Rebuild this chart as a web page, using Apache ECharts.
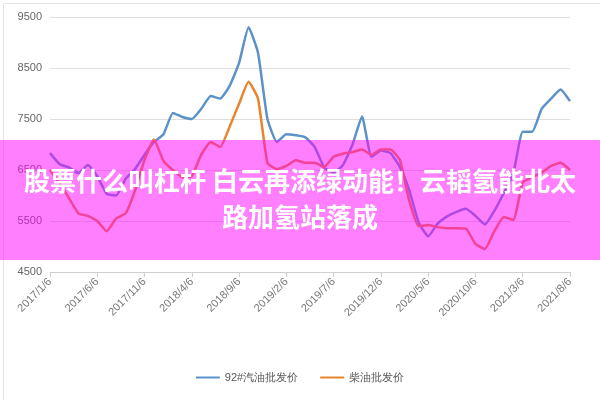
<!DOCTYPE html>
<html><head><meta charset="utf-8">
<script src="https://cdn.jsdelivr.net/npm/echarts@6/dist/echarts.min.js"></script>
<style>html,body{margin:0;padding:0;background:#fff}#c{width:600px;height:400px}</style>
</head><body><div id="c"></div>
<script>
const startYear = 2017, startMonth = 1, monthCount = 56;
const categories = [];
for (let i = 0; i < monthCount; i++) {
  const t = startMonth - 1 + i;
  categories.push((startYear + Math.floor(t / 12)) + '/' + (t % 12 + 1) + '/6');
}
const gasoline92 = [6830,6620,6550,6440,6600,6380,6030,6000,6330,6520,6800,7050,7200,7620,7540,7500,7700,7950,7900,8150,8600,9300,8800,7500,7050,7200,7180,7140,6950,6550,6450,6600,7000,7550,6760,6880,6830,6560,6100,5470,5200,5450,5590,5680,5740,5600,5430,5700,6050,6430,7250,7250,7700,7900,8080,7850];
const diesel = [6500,6250,5950,5650,5600,5500,5300,5550,5650,6100,6700,7100,6680,6500,6360,6380,6800,7050,6950,7350,7800,8230,7900,6640,6520,6580,6690,6640,6640,6560,6760,6820,6850,6900,6800,6900,6900,6700,5900,5400,5420,5380,5360,5360,5350,5050,4950,5300,5580,5520,6250,6360,6450,6580,6640,6500];
const yTicks = [4500, 5500, 6500, 7500, 8500, 9500];
const seriesNames = ['92#汽油批发价', '柴油批发价'];
const title = ['股票什么叫杠杆 白云再添绿动能！云韬氢能北太', '路加氢站落成'];

const chart = echarts.init(document.getElementById('c'));
chart.setOption({
  animation: false,
  color: ['#5b93c9', '#e8842f'],
  grid: {left: 50, right: 30, top: 17, bottom: 128},
  legend: {bottom: 12, left: 'center', itemWidth: 24, itemHeight: 2, itemGap: 22,
    icon: 'rect', textStyle: {color: '#555', fontSize: 11}, data: seriesNames},
  xAxis: {type: 'category', data: categories, boundaryGap: false,
    axisLine: {lineStyle: {color: '#d0d0d0'}},
    axisTick: {show: true, interval: 4, lineStyle: {color: '#d0d0d0'}},
    axisLabel: {interval: 4, rotate: 45, color: '#777', fontSize: 11}},
  yAxis: {type: 'value', min: yTicks[0], max: yTicks[yTicks.length - 1], interval: 1000,
    axisLine: {show: false}, axisTick: {show: false},
    axisLabel: {color: '#666', fontSize: 11, formatter: v => String(v)},
    splitLine: {lineStyle: {color: '#dedede'}}},
  series: [
    {name: seriesNames[0], type: 'line', data: gasoline92, showSymbol: false, smooth: 0.15, lineStyle: {width: 2.5}},
    {name: seriesNames[1], type: 'line', data: diesel, showSymbol: false, smooth: 0.15, lineStyle: {width: 2.5}}
  ],
  graphic: [
    {type: 'rect', left: 1, top: 1, shape: {width: 597, height: 397}, style: {fill: 'none', stroke: '#e4e4e4', lineWidth: 1}, z: 1},
    {type: 'rect', left: 0, top: 140, shape: {width: 600, height: 120}, style: {fill: 'rgba(255,0,255,0.5)'}, z: 100},
    {type: 'text', left: 'center', top: 168, style: {text: title[0], fill: '#fff', font: 'bold 26px "Noto Sans CJK SC"'}, z: 101},
    {type: 'text', left: 'center', top: 204, style: {text: title[1], fill: '#fff', font: 'bold 26px "Noto Sans CJK SC"'}, z: 101}
  ]
});
</script></body></html>
